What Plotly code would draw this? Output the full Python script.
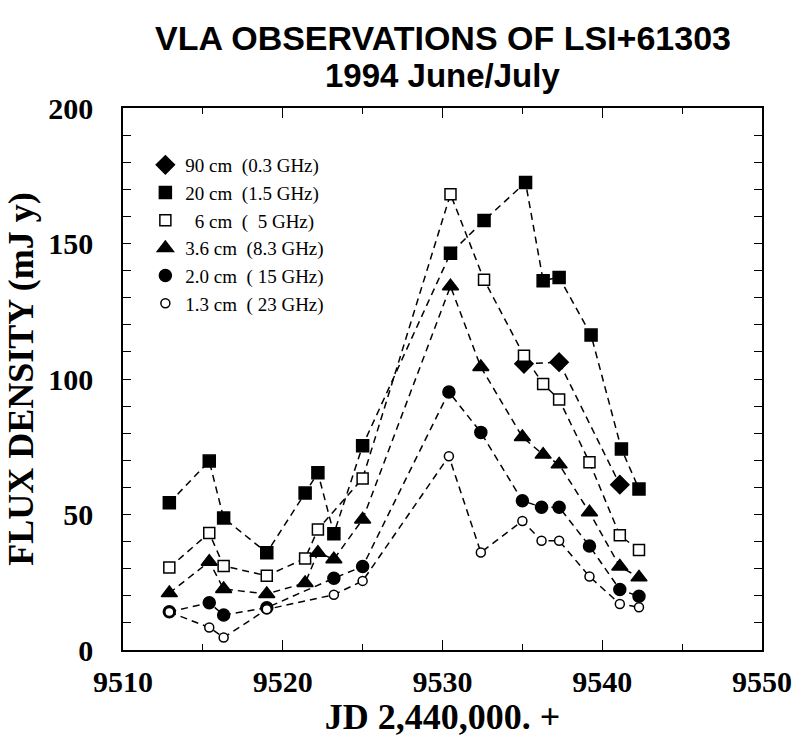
import plotly.graph_objects as go

# ---- data (JD - 2,440,000 ; flux density mJy) ----
jd_90 = [9535.1, 9537.3, 9541.1]
f_90 = [105.6, 106.2, 61.0]

jd_20 = [9512.9, 9515.4, 9516.3, 9519.0, 9521.4, 9522.2, 9523.2, 9525.0,
         9530.5, 9532.6, 9535.2, 9536.3, 9537.3, 9539.3, 9541.2, 9542.3]
f_20 = [54.3, 69.7, 48.7, 35.9, 57.9, 65.4, 42.9, 75.4,
        146.4, 158.5, 172.5, 136.3, 137.5, 116.2, 74.2, 59.4]

jd_6 = [9512.9, 9515.4, 9516.3, 9519.0, 9521.4, 9522.2, 9525.0,
        9530.5, 9532.6, 9535.1, 9536.3, 9537.3, 9539.2, 9541.1, 9542.3]
f_6 = [30.4, 43.2, 31.0, 27.4, 33.8, 44.5, 63.3,
       168.2, 136.6, 108.6, 98.2, 92.4, 69.3, 42.3, 36.9]

jd_36 = [9512.9, 9515.4, 9516.3, 9519.0, 9521.4, 9522.2, 9523.2, 9525.0,
         9530.5, 9532.4, 9535.0, 9536.3, 9537.3, 9539.2, 9541.1, 9542.3]
f_36 = [21.0, 32.6, 22.5, 20.7, 24.7, 35.9, 33.5, 48.2,
        134.2, 104.4, 78.6, 72.1, 68.5, 50.8, 30.8, 26.8]

jd_2 = [9512.9, 9515.4, 9516.3, 9519.0, 9523.2, 9525.0,
        9530.4, 9532.4, 9535.0, 9536.2, 9537.3, 9539.2, 9541.1, 9542.3]
f_2 = [14.1, 17.4, 12.9, 15.6, 26.5, 30.8,
       95.2, 80.3, 55.1, 52.7, 52.7, 38.4, 22.3, 19.8]

jd_13 = [9512.9, 9515.4, 9516.3, 9519.0, 9523.2, 9525.0,
         9530.4, 9532.4, 9535.0, 9536.2, 9537.3, 9539.2, 9541.1, 9542.3]
f_13 = [14.0, 8.3, 4.6, 15.0, 20.4, 25.5,
        71.5, 36.0, 47.6, 40.3, 40.3, 27.1, 17.0, 15.8]

labels = ["90 cm  (0.3 GHz)", "20 cm  (1.5 GHz)", "  6 cm  (  5 GHz)",
          "3.6 cm  (8.3 GHz)", "2.0 cm  ( 15 GHz)", "1.3 cm  ( 23 GHz)"]

series = [
    (jd_90, f_90, "diamond", 14, "black"),
    (jd_20, f_20, "square", 12, "black"),
    (jd_6, f_6, "square", 11, "white"),
    (jd_36, f_36, "triangle-up", 14, "black"),
    (jd_2, f_2, "circle", 12, "black"),
    (jd_13, f_13, "circle", 9, "white"),
]

fig = go.Figure()
for (x, y, sym, size, fill), name in zip(series, labels):
    fig.add_trace(go.Scatter(
        x=x, y=y, mode="lines+markers", showlegend=False,
        line=dict(color="black", width=1.5, dash="7px,5px"),
        marker=dict(symbol=sym, size=size, color=fill,
                    line=dict(color="black", width=1.5)),
    ))
for (x, y, sym, size, fill), name in zip(series, labels):
    fig.add_trace(go.Scatter(
        x=[None], y=[None], mode="markers", name=name,
        marker=dict(symbol=sym, size=size, color=fill,
                    line=dict(color="black", width=1.5)),
    ))

serif = "Liberation Serif, Times New Roman, serif"
sans = "Liberation Sans, Arial, sans-serif"

fig.update_layout(
    width=804, height=737,
    margin=dict(l=123, r=31, t=108, b=81),
    paper_bgcolor="white", plot_bgcolor="white",
    showlegend=True,
    legend=dict(x=0.035, y=0.93, xanchor="left", yanchor="top",
                bgcolor="rgba(0,0,0,0)", itemwidth=30,
                font=dict(family=serif, size=19, color="black"),
                tracegroupgap=0),
    font=dict(family=serif, color="black"),
)

fig.update_xaxes(
    range=[9510, 9550], dtick=10, tick0=9510,
    showgrid=False, zeroline=False,
    showline=True, linecolor="black", linewidth=1.5, mirror="ticks",
    ticks="inside", ticklen=10, tickwidth=1.2, tickcolor="black",
    minor=dict(dtick=5, ticks="inside", ticklen=6, tickwidth=1.2, tickcolor="black", showgrid=False),
    tickfont=dict(family=serif, size=30, color="black", weight="bold"),
    ticklabelstandoff=4,
    title=dict(text="<b>JD 2,440,000. +</b>", font=dict(family=serif, size=36, color="black"),
               standoff=2),
)
fig.update_yaxes(
    range=[0, 200], dtick=50, tick0=0,
    showgrid=False, zeroline=False,
    showline=True, linecolor="black", linewidth=1.5, mirror="ticks",
    ticks="inside", ticklen=8, tickwidth=1.2, tickcolor="black",
    minor=dict(dtick=10, ticks="inside", ticklen=8, tickwidth=1.2, tickcolor="black", showgrid=False),
    tickfont=dict(family=serif, size=30, color="black", weight="bold"),
    ticklabelstandoff=22,
    title=dict(text="<b>FLUX DENSITY (mJ y)</b>", font=dict(family=serif, size=36, color="black"),
               standoff=4),
)

fig.add_annotation(text="<b>VLA OBSERVATIONS OF LSI+61303</b>", xref="paper", yref="paper",
                   x=0.5, y=1, yanchor="middle", yshift=70, showarrow=False,
                   font=dict(family=sans, size=34, color="black"))
fig.add_annotation(text="<b>1994 June/July</b>", xref="paper", yref="paper",
                   x=0.5, y=1, yanchor="middle", yshift=33, showarrow=False,
                   font=dict(family=sans, size=33, color="black"))

fig.write_html("out.html")
